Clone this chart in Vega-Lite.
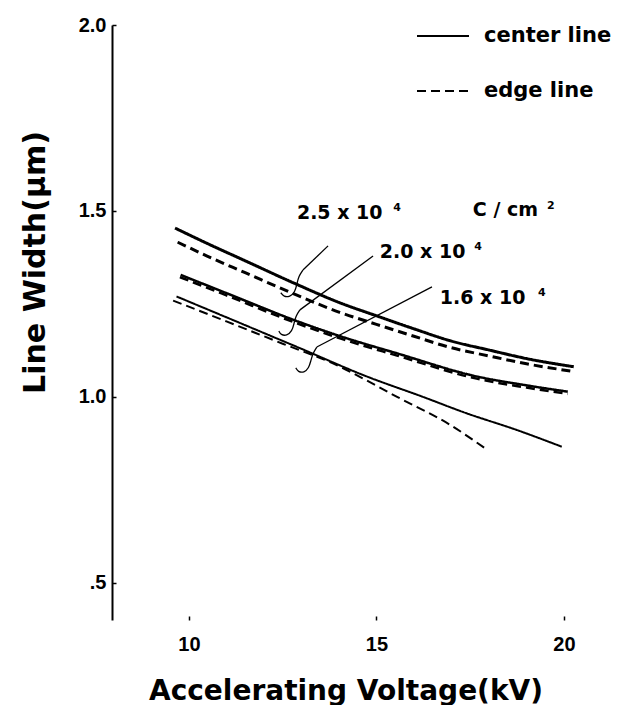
{
  "$schema": "https://vega.github.io/schema/vega-lite/v6.json",
  "width": 467,
  "height": 595,
  "autosize": {"type": "pad"},
  "padding": {"left": 20, "top": 9, "right": 0, "bottom": 0},
  "background": "white",
  "config": {"view": {"stroke": null}, "font": "Open Sans"},
  "datasets": {
    "curves": [
      {"s": "2.5", "k": "center line", "x": 9.63, "y": 1.454},
      {"s": "2.5", "k": "center line", "x": 10.5, "y": 1.412},
      {"s": "2.5", "k": "center line", "x": 11.5, "y": 1.366},
      {"s": "2.5", "k": "center line", "x": 12.8, "y": 1.306},
      {"s": "2.5", "k": "center line", "x": 14.0, "y": 1.254},
      {"s": "2.5", "k": "center line", "x": 15.0, "y": 1.218},
      {"s": "2.5", "k": "center line", "x": 16.0, "y": 1.183},
      {"s": "2.5", "k": "center line", "x": 17.0, "y": 1.150},
      {"s": "2.5", "k": "center line", "x": 18.0, "y": 1.126},
      {"s": "2.5", "k": "center line", "x": 19.0, "y": 1.103},
      {"s": "2.5", "k": "center line", "x": 20.26, "y": 1.081},
      {"s": "2.5", "k": "edge line", "x": 9.7, "y": 1.416},
      {"s": "2.5", "k": "edge line", "x": 10.5, "y": 1.378},
      {"s": "2.5", "k": "edge line", "x": 11.5, "y": 1.334},
      {"s": "2.5", "k": "edge line", "x": 12.8, "y": 1.277},
      {"s": "2.5", "k": "edge line", "x": 14.0, "y": 1.228},
      {"s": "2.5", "k": "edge line", "x": 15.0, "y": 1.195},
      {"s": "2.5", "k": "edge line", "x": 16.0, "y": 1.163},
      {"s": "2.5", "k": "edge line", "x": 17.0, "y": 1.132},
      {"s": "2.5", "k": "edge line", "x": 18.0, "y": 1.110},
      {"s": "2.5", "k": "edge line", "x": 19.0, "y": 1.089},
      {"s": "2.5", "k": "edge line", "x": 20.2, "y": 1.069},
      {"s": "2.0", "k": "center line", "x": 9.78, "y": 1.328},
      {"s": "2.0", "k": "center line", "x": 11.0, "y": 1.279},
      {"s": "2.0", "k": "center line", "x": 12.9, "y": 1.203},
      {"s": "2.0", "k": "center line", "x": 14.07, "y": 1.162},
      {"s": "2.0", "k": "center line", "x": 15.55, "y": 1.117},
      {"s": "2.0", "k": "center line", "x": 17.67, "y": 1.055},
      {"s": "2.0", "k": "center line", "x": 19.0, "y": 1.031},
      {"s": "2.0", "k": "center line", "x": 20.1, "y": 1.014},
      {"s": "2.0", "k": "edge line", "x": 9.76, "y": 1.322},
      {"s": "2.0", "k": "edge line", "x": 11.0, "y": 1.273},
      {"s": "2.0", "k": "edge line", "x": 12.9, "y": 1.197},
      {"s": "2.0", "k": "edge line", "x": 14.07, "y": 1.156},
      {"s": "2.0", "k": "edge line", "x": 15.55, "y": 1.111},
      {"s": "2.0", "k": "edge line", "x": 17.67, "y": 1.049},
      {"s": "2.0", "k": "edge line", "x": 19.0, "y": 1.025},
      {"s": "2.0", "k": "edge line", "x": 20.1, "y": 1.008},
      {"s": "1.6", "k": "center line", "x": 9.67, "y": 1.270},
      {"s": "1.6", "k": "center line", "x": 11.0, "y": 1.214},
      {"s": "1.6", "k": "center line", "x": 12.96, "y": 1.131},
      {"s": "1.6", "k": "center line", "x": 14.74, "y": 1.055},
      {"s": "1.6", "k": "center line", "x": 16.24, "y": 1.000},
      {"s": "1.6", "k": "center line", "x": 17.4, "y": 0.956},
      {"s": "1.6", "k": "center line", "x": 18.74, "y": 0.911},
      {"s": "1.6", "k": "center line", "x": 19.94, "y": 0.866},
      {"s": "1.6", "k": "edge line", "x": 9.58, "y": 1.259},
      {"s": "1.6", "k": "edge line", "x": 11.0, "y": 1.203},
      {"s": "1.6", "k": "edge line", "x": 12.5, "y": 1.143},
      {"s": "1.6", "k": "edge line", "x": 13.84, "y": 1.090},
      {"s": "1.6", "k": "edge line", "x": 15.55, "y": 1.000},
      {"s": "1.6", "k": "edge line", "x": 16.96, "y": 0.925},
      {"s": "1.6", "k": "edge line", "x": 17.89, "y": 0.862}
    ],
    "leaders": [
      {"id": "2.5", "x": 13.71, "y": 1.406},
      {"id": "2.5", "x": 13.04, "y": 1.341},
      {"id": "2.0", "x": 14.91, "y": 1.379},
      {"id": "2.0", "x": 12.96, "y": 1.234},
      {"id": "1.6", "x": 16.48, "y": 1.296},
      {"id": "1.6", "x": 13.41, "y": 1.134}
    ],
    "curls": [
      {"id": "2.5", "i": 1, "x": 13.04, "y": 1.341},
      {"id": "2.5", "i": 2, "x": 12.93, "y": 1.325},
      {"id": "2.5", "i": 3, "x": 12.88, "y": 1.304},
      {"id": "2.5", "i": 4, "x": 12.83, "y": 1.282},
      {"id": "2.5", "i": 5, "x": 12.69, "y": 1.269},
      {"id": "2.5", "i": 6, "x": 12.53, "y": 1.269},
      {"id": "2.5", "i": 7, "x": 12.45, "y": 1.280},
      {"id": "2.0", "i": 1, "x": 12.96, "y": 1.234},
      {"id": "2.0", "i": 2, "x": 12.85, "y": 1.218},
      {"id": "2.0", "i": 3, "x": 12.80, "y": 1.196},
      {"id": "2.0", "i": 4, "x": 12.75, "y": 1.177},
      {"id": "2.0", "i": 5, "x": 12.61, "y": 1.164},
      {"id": "2.0", "i": 6, "x": 12.45, "y": 1.167},
      {"id": "2.0", "i": 7, "x": 12.40, "y": 1.177},
      {"id": "1.6", "i": 1, "x": 13.41, "y": 1.134},
      {"id": "1.6", "i": 2, "x": 13.31, "y": 1.118},
      {"id": "1.6", "i": 3, "x": 13.25, "y": 1.097},
      {"id": "1.6", "i": 4, "x": 13.20, "y": 1.078},
      {"id": "1.6", "i": 5, "x": 13.07, "y": 1.065},
      {"id": "1.6", "i": 6, "x": 12.91, "y": 1.067},
      {"id": "1.6", "i": 7, "x": 12.85, "y": 1.078}
    ],
    "labels": [
      {"t": "2.5 x 10", "x": 12.88, "y": 1.495},
      {"t": "2.0 x 10", "x": 15.09, "y": 1.390},
      {"t": "1.6 x 10", "x": 16.69, "y": 1.266},
      {"t": "C / cm", "x": 17.57, "y": 1.503}
    ],
    "sups": [
      {"t": "4", "x": 15.55, "y": 1.507},
      {"t": "4", "x": 17.71, "y": 1.402},
      {"t": "4", "x": 19.41, "y": 1.279},
      {"t": "2", "x": 19.65, "y": 1.513}
    ]
  },
  "layer": [
    {
      "data": {"name": "curves"},
      "mark": {"type": "line", "color": "black", "interpolate": "monotone"},
      "encoding": {
        "x": {
          "field": "x", "type": "quantitative",
          "scale": {"domain": [7.95, 20.4], "nice": false, "zero": false},
          "axis": {
            "values": [10, 15, 20], "domain": false, "grid": false,
            "tickSize": -4, "tickColor": "black", "tickWidth": 1.5,
            "labelFontSize": 20, "labelFontWeight": "bold", "labelColor": "black",
            "labelPadding": 18, "labelFont": "Liberation Sans",
            "title": "Accelerating Voltage(kV)", "titleFontSize": 28,
            "titleFontWeight": "bold", "titleColor": "black", "titlePadding": 23,
            "titleFont": "DejaVu Sans"
          }
        },
        "y": {
          "field": "y", "type": "quantitative",
          "scale": {"domain": [0.4, 2.0], "nice": false, "zero": false},
          "axis": {
            "values": [0.5, 1.0, 1.5, 2.0], "grid": false,
            "labelExpr": "datum.value == 0.5 ? '.5' : format(datum.value, '.1f')",
            "domainColor": "black", "domainWidth": 2,
            "tickSize": -4, "tickColor": "black", "tickWidth": 1.5,
            "labelFontSize": 20, "labelFontWeight": "bold", "labelColor": "black",
            "labelPadding": 10, "labelFont": "Liberation Sans",
            "title": "Line Width(μm)", "titleFontSize": 30, "titleY": 237,
            "titleFontWeight": "bold", "titleColor": "black", "titlePadding": 28,
            "titleFont": "DejaVu Sans"
          }
        },
        "detail": {"field": "s"},
        "strokeDash": {
          "field": "k", "type": "nominal",
          "scale": {"domain": ["center line", "edge line"], "range": [[1, 0], [9, 5]]},
          "legend": {
            "title": null, "orient": "none", "legendX": 304, "legendY": -16,
            "symbolType": "stroke", "symbolSize": 2704, "symbolStrokeWidth": 2,
            "symbolStrokeColor": "black", "labelFontSize": 21, "labelFont": "DejaVu Sans",
            "labelFontWeight": "bold", "labelOffset": 14, "rowPadding": 18, "labelColor": "black"
          }
        },
        "strokeWidth": {
          "field": "s", "type": "nominal",
          "scale": {"domain": ["1.6", "2.0", "2.5"], "range": [2, 3, 2]},
          "legend": null
        }
      }
    },
    {
      "mark": {"type": "rule", "color": "black", "strokeWidth": 1.5},
      "encoding": {"y": {"datum": 1.0}}
    },
    {
      "mark": {"type": "rule", "color": "black", "strokeWidth": 2},
      "encoding": {"x": {"datum": 7.95}, "x2": {"datum": 20}, "y": {"datum": 0.4}}
    },
    {
      "data": {"name": "leaders"},
      "mark": {"type": "line", "color": "black", "strokeWidth": 1.3},
      "encoding": {
        "x": {"field": "x", "type": "quantitative"},
        "y": {"field": "y", "type": "quantitative"},
        "detail": {"field": "id"}
      }
    },
    {
      "data": {"name": "curls"},
      "mark": {"type": "line", "color": "black", "strokeWidth": 1.3, "interpolate": "basis"},
      "encoding": {
        "x": {"field": "x", "type": "quantitative"},
        "y": {"field": "y", "type": "quantitative"},
        "detail": {"field": "id"},
        "order": {"field": "i", "type": "quantitative"}
      }
    },
    {
      "mark": {"type": "point", "shape": "triangle-up", "filled": true, "color": "black", "size": 30, "angle": 225},
      "encoding": {"x": {"datum": 13.08}, "y": {"datum": 1.345}}
    },
    {
      "data": {"name": "labels"},
      "mark": {"type": "text", "align": "left", "baseline": "middle", "fontSize": 19, "fontWeight": "bold", "font": "DejaVu Sans", "color": "black"},
      "encoding": {
        "x": {"field": "x", "type": "quantitative"},
        "y": {"field": "y", "type": "quantitative"},
        "text": {"field": "t"}
      }
    },
    {
      "data": {"name": "sups"},
      "mark": {"type": "text", "align": "center", "baseline": "middle", "fontSize": 11, "fontWeight": "bold", "font": "DejaVu Sans", "color": "black"},
      "encoding": {
        "x": {"field": "x", "type": "quantitative"},
        "y": {"field": "y", "type": "quantitative"},
        "text": {"field": "t"}
      }
    }
  ]
}
